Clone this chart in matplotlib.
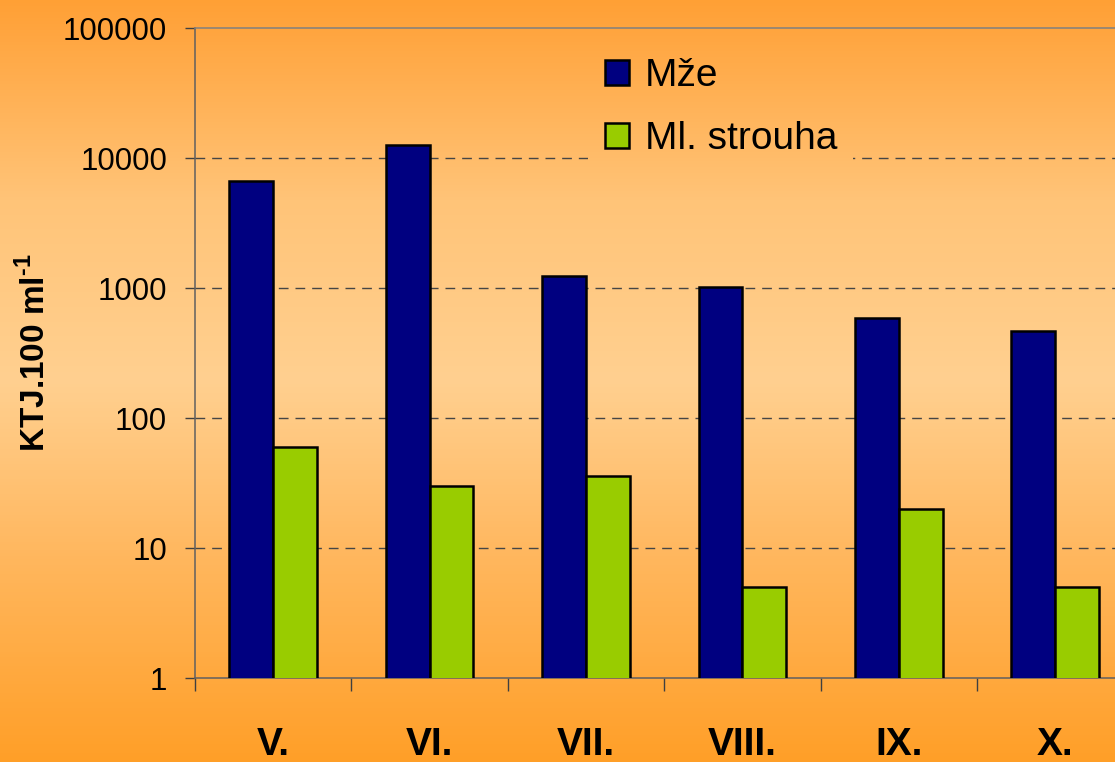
import numpy as np
import matplotlib
matplotlib.use("Agg")
import matplotlib.pyplot as plt
from matplotlib.colors import LinearSegmentedColormap
from matplotlib.patches import Patch
from matplotlib.ticker import FixedLocator, NullFormatter

plt.rcParams['font.family'] = ['Liberation Sans', 'DejaVu Sans']
plt.rcParams['mathtext.fontset'] = 'custom'
plt.rcParams['mathtext.rm'] = 'Liberation Sans'
plt.rcParams['mathtext.bf'] = 'Liberation Sans:bold'

# data
months = ['V.', 'VI.', 'VII.', 'VIII.', 'IX.', 'X.']
mze = [6600, 12700, 1230, 1010, 585, 470]
ml_strouha = [60, 30, 36, 5, 20, 5]
series_names = ['Mže', 'Ml. strouha']
series_colors = ['#000080', '#99CC00']
y_ticks = [1, 10, 100, 1000, 10000, 100000]

W, H = 1115, 762
fig = plt.figure(figsize=(W / 100, H / 100), dpi=100)

# background gradient (orange - light - orange)
grad_cmap = LinearSegmentedColormap.from_list(
    'bg', [(0.0, '#FFA035'), (200 / 762, '#FFC478'), (380 / 762, '#FFD090'),
           (550 / 762, '#FFB860'), (1.0, '#FF9F28')])
grad = np.linspace(0, 1, 762).reshape(-1, 1)

bg = fig.add_axes([0, 0, 1, 1], zorder=-1)
bg.imshow(grad, cmap=grad_cmap, aspect='auto', extent=(0, 1, 0, 1), origin='upper')
bg.set_xlim(0, 1)
bg.set_ylim(0, 1)
bg.axis('off')

# main axes (right part runs past the figure edge like the original)
left, bottom, top = 195, 84, 734
cat_w = 156.4
ax = fig.add_axes([left / W, bottom / H, 6 * cat_w / W, (top - bottom) / H])
ax.set_facecolor('none')

x = np.arange(len(months))
bw = 0.28
ax.bar(x - bw / 2, mze, bw, color=series_colors[0], edgecolor='black', linewidth=1.8, zorder=3)
ax.bar(x + bw / 2, ml_strouha, bw, color=series_colors[1], edgecolor='black', linewidth=1.8, zorder=3)

ax.set_yscale('log')
ax.set_ylim(1, 100000)
ax.set_xlim(-0.5, len(months) - 0.5)
ax.yaxis.set_major_locator(FixedLocator(y_ticks))
ax.yaxis.set_minor_locator(FixedLocator([]))
ax.set_yticklabels([str(v) for v in y_ticks], fontsize=22.5)
ax.tick_params(axis='y', which='major', length=7, width=1, color='#404040', pad=13)

ax.set_xticks(np.arange(len(months) + 1) - 0.5)
ax.xaxis.set_major_formatter(NullFormatter())
ax.set_xticks(x, minor=True)
ax.set_xticklabels(months, minor=True, fontsize=28, fontweight='bold')
ax.tick_params(axis='x', which='major', length=9, width=1, color='#404040')
ax.tick_params(axis='x', which='minor', length=0, pad=35)

for yv in y_ticks[1:-1]:
    ax.axhline(yv, color='#454545', lw=1, ls=(0, (7, 5)), zorder=1)

for side in ['left', 'bottom']:
    ax.spines[side].set_color('#606060')
    ax.spines[side].set_linewidth(1.1)
ax.spines['top'].set_color('#808080')
ax.spines['top'].set_linewidth(1.1)
ax.spines['right'].set_visible(False)

ax.set_ylabel('KTJ.100 ml$^{\\mathbf{\u2010}\\mathbf{1}}$', fontsize=24, fontweight='bold')
ax.yaxis.set_label_coords(-0.152, 0.5)

# patch of background behind the legend (hides the grid line)
lx0, ly0, lx1, ly1 = 588, 598, 853, 712
patch = fig.add_axes([lx0 / W, ly0 / H, (lx1 - lx0) / W, (ly1 - ly0) / H], zorder=1)
patch.imshow(grad, cmap=grad_cmap, aspect='auto', extent=(0, 1, 0, 1), origin='upper')
patch.set_xlim(lx0 / W, lx1 / W)
patch.set_ylim(ly0 / H, ly1 / H)
patch.axis('off')

handles = [Patch(facecolor=c, edgecolor='black', linewidth=1.8) for c in series_colors]
leg = fig.legend(handles, series_names, loc='upper left',
                 bbox_to_anchor=(605 / W, (H - 58) / H), frameon=False,
                 fontsize=28, handlelength=0.62, handleheight=0.62,
                 handletextpad=0.4, labelspacing=0.7, borderpad=0, borderaxespad=0)
leg.set_zorder(5)

fig.savefig('out.png', dpi=100)
